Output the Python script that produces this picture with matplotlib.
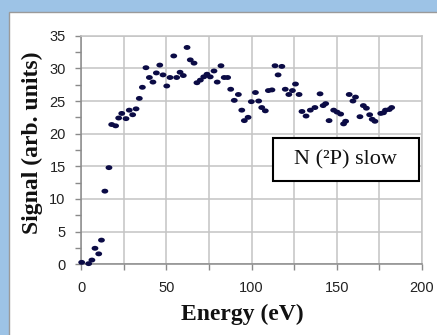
import matplotlib
matplotlib.use("Agg")
import matplotlib.pyplot as plt
from matplotlib.patches import Rectangle
from matplotlib.path import Path
from matplotlib.transforms import Affine2D

# ---- data ----
energy_ev = [0.4, 4.5, 6.4, 8.2, 10.4, 12.0, 14.0, 16.4,
             18.0, 20.3, 22.1, 23.9, 26.4, 28.3, 30.3, 32.3, 34.2, 36.0, 38.1, 40.1,
             42.2, 44.2, 46.2, 48.1, 50.3, 52.2, 54.4, 56.1, 58.1, 60.0, 62.2, 64.1,
             66.3, 68.0, 70.0, 72.0, 73.9, 75.8, 78.0, 79.9, 82.1, 84.0, 86.0, 87.8,
             89.9, 92.3, 94.3, 95.8, 98.0, 99.9, 102.3, 104.2, 106.0, 108.1, 109.9,
             112.0, 113.8, 115.6, 117.8, 119.8, 121.9, 124.0, 125.8, 127.9, 129.6,
             132.0, 134.5, 137.2, 140.2, 142.0, 143.5, 145.5, 148.2, 150.2, 152.3,
             154.0, 155.2, 157.3, 159.5, 161.0, 163.6, 165.6, 167.4, 169.3, 170.8,
             172.4, 175.8, 177.4, 178.6, 180.8, 182.2]
signal = [0.3, 0.1, 0.65, 2.45, 1.6, 3.7, 11.2, 14.8,
          21.4, 21.2, 22.4, 23.1, 22.3, 23.6, 22.9, 23.8, 25.4, 27.1, 30.1, 28.6,
          27.9, 29.3, 30.5, 29.0, 27.3, 28.6, 31.9, 28.6, 29.4, 28.9, 33.2, 31.3,
          30.8, 27.8, 28.2, 28.7, 29.1, 28.7, 29.6, 27.9, 30.4, 28.6, 28.6, 26.8,
          25.1, 26.0, 23.6, 22.0, 22.5, 24.9, 26.3, 25.0, 24.0, 23.5, 26.6,
          26.7, 30.4, 29.0, 30.3, 26.8, 26.0, 26.6, 27.6, 26.0, 23.4,
          22.7, 23.6, 24.0, 26.1, 24.3, 24.6, 22.0, 23.6, 23.3, 23.0,
          21.5, 21.9, 26.0, 25.0, 25.6, 22.6, 24.3, 23.9, 22.9, 22.2,
          21.9, 23.1, 23.2, 23.6, 23.7, 24.0]

x_ticks = [0, 25, 50, 75, 100, 125, 150, 175, 200]
x_tick_labels = ["0", "", "50", "", "100", "", "150", "", "200"]
y_ticks = [0, 5, 10, 15, 20, 25, 30, 35]
y_minor_ticks = [2.5, 7.5, 12.5, 17.5, 22.5, 27.5, 32.5]
x_label = "Energy (eV)"
y_label = "Signal (arb. units)"
box_label = "N (\u00b2P) slow"

# ---- figure ----
fig = plt.figure(figsize=(4.37, 3.35), dpi=100)
fig.patch.set_facecolor("#9dc3e6")

bg = fig.add_axes([0, 0, 1, 1], zorder=-5)
bg.set_xlim(0, 437)
bg.set_ylim(335, 0)
bg.axis("off")
bg.add_patch(Rectangle((9, 12), 440, 340, facecolor="white",
                       edgecolor="#9a9a9a", linewidth=1.0))

ax = fig.add_axes([81 / 437, 70.7 / 335, 341 / 437, 228.6 / 335], zorder=1)
ax.set_facecolor("white")
ax.set_xlim(0, 200)
ax.set_ylim(0, 35)

ax.set_xticks(x_ticks)
ax.set_xticklabels(x_tick_labels)
ax.set_yticks(y_ticks)
ax.set_yticks(y_minor_ticks, minor=True)

ax.grid(True, which="major", color="#c4c4c4", linewidth=1.1)
ax.set_axisbelow(True)

for side in ["top", "right"]:
    ax.spines[side].set_color("#c4c4c4")
    ax.spines[side].set_linewidth(1.1)
for side in ["left", "bottom"]:
    ax.spines[side].set_color("#8a8a8a")
    ax.spines[side].set_linewidth(1.1)

ax.tick_params(axis="both", which="major", direction="out", length=4,
               width=1, color="#8a8a8a", labelsize=10.5, labelcolor="#222222")
ax.tick_params(axis="y", which="minor", direction="out", length=4,
               width=1, color="#8a8a8a")
ax.tick_params(axis="y", pad=7)
ax.tick_params(axis="x", pad=8)
for lab in ax.get_xticklabels() + ax.get_yticklabels():
    lab.set_fontfamily(["Liberation Sans", "DejaVu Sans"])

ellipse = Path.unit_circle().transformed(Affine2D().scale(1.25, 0.9))
ax.scatter(energy_ev, signal, s=24, color="#0b0b45", edgecolors="none",
           marker=ellipse, zorder=3, clip_on=False)

label_font = dict(family=["Liberation Serif", "DejaVu Serif"], weight="bold",
                  size=17, color="#111111")
ax.set_xlabel(x_label, **label_font)
ax.set_ylabel(y_label, **label_font)
ax.xaxis.set_label_coords(0.474, -0.175)
ax.yaxis.set_label_coords(-0.112, 0.53)

# text box
ax.add_patch(Rectangle((0.562, 0.366), 0.429, 0.188, transform=ax.transAxes,
                       facecolor="white", edgecolor="black", linewidth=1.5,
                       zorder=4))
ax.text(0.7765, 0.455, box_label, transform=ax.transAxes, ha="center",
        va="center", fontsize=16, family=["Liberation Serif", "DejaVu Serif"],
        color="#111111", zorder=5)

fig.savefig("out.png", dpi=100, facecolor=fig.get_facecolor())
